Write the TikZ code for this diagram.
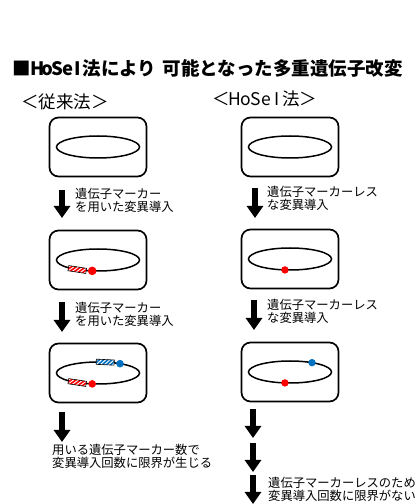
\documentclass[tikz,border=0pt]{standalone}
\usepackage{fontspec}
\newfontfamily\jp{Noto Sans CJK JP}
\usepackage{tikz}
\usetikzlibrary{arrows.meta, positioning, calc}

\definecolor{mkred}{RGB}{255,0,0}
\definecolor{mkblue}{RGB}{0,112,192}

% spaced-out letters of the method name, #1 = pitch
\newcommand{\hosei}[1]{\makebox[#1]{H}\makebox[#1]{o}\makebox[#1]{S}\makebox[#1]{e}\makebox[#1]{I}}

% striped marker block sitting on the ring at angle #2
\newcommand{\markerbox}[3]{%
	\begin{scope}[shift={($(#1)+(#2:41.5 and 11)$)}, rotate={atan2(11*cos(#2),-41.5*sin(#2))+180}]
		\begin{scope}
			\clip (-9,-2.6) rectangle (9,2.6);
			\fill[white] (-9,-2.6) rectangle (9,2.6);
			\foreach \s in {-12,-8,...,12}
			{
				\draw[#3, line width=1.6pt] (\s-3,-3) -- (\s+3,3);
			}
		\end{scope}
		\draw[line width=0.6pt] (-9,-2.6) rectangle (9,2.6);
	\end{scope}%
}

\begin{document}
\begin{tikzpicture}[x=1pt, y=1pt, font=\jp,
		panel/.style = {draw, line width=1.7pt, rounded corners=9pt, minimum width=97pt, minimum height=59pt},
		ring/.style = {line width=1.5pt},
		flow/.style = {line width=5.5pt, -{Triangle[width=16pt, length=12pt]}},
		note/.style = {anchor=west, align=left, font=\jp\fontsize{12.3}{12.8}\selectfont, inner sep=0pt},
		head/.style = {anchor=west, font=\jp\fontsize{17.5}{19}\selectfont, inner sep=0pt},
		dot/.style = {fill=#1, draw=none}
	]
	\useasboundingbox (0,0) rectangle (420,504);

	% heading
	\node[anchor=west, font=\jp\bfseries\fontsize{18.5}{20}\selectfont, inner sep=0pt] (title) at (12,436)
		{■\hspace{0.1em}\hosei{10pt}法により\hspace{0.35em}可能となった多重遺伝子改変};
	\node[head] (oldhead) at (21,402) {＜従来法＞};
	\node[head] (newhead) at (212,405) {＜\hosei{10.5pt}法＞};

	% conventional route
	\node[panel] (L1) at (98,357) {};
	\node[panel] (L2) at (98,244) {};
	\node[panel] (L3) at (98,131) {};

	% marker-less route
	\node[panel] (R1) at (290,357) {};
	\node[panel] (R2) at (290,245) {};
	\node[panel] (R3) at (290,132) {};

	% rings
	\foreach \p in {L1,L2,L3,R1,R2,R3}
	{
		\draw[ring] (\p) ellipse (41.5 and 11);
	}

	% introduced mutations
	\markerbox{L2}{240}{mkred}
	\fill[dot=mkred] ($(L2)+(262:41.5 and 11)$) circle (4.3);

	\markerbox{L3}{80}{mkblue}
	\fill[dot=mkblue] ($(L3)+(58:41.5 and 11)$) circle (3.8);
	\markerbox{L3}{240}{mkred}
	\fill[dot=mkred] ($(L3)+(262:41.5 and 11)$) circle (3.8);

	\fill[dot=mkred] ($(R2)+(263:41.5 and 11)$) circle (3.7);
	\fill[dot=mkblue] ($(R3)+(58:41.5 and 11)$) circle (3.7);
	\fill[dot=mkred] ($(R3)+(263:41.5 and 11)$) circle (3.7);

	% arrows between the stages
	\coordinate (l1a) at (62,314);  \coordinate (l1b) at (62,286);
	\coordinate (l2a) at (62,202);  \coordinate (l2b) at (62,172);
	\coordinate (l3a) at (62,92);   \coordinate (l3b) at (62,62);
	\coordinate (r1a) at (255,316); \coordinate (r1b) at (255,286);
	\coordinate (r2a) at (254,204); \coordinate (r2b) at (254,174);
	\coordinate (r3a) at (253,95);  \coordinate (r3b) at (253,66);
	\coordinate (r4a) at (253,61);  \coordinate (r4b) at (253,32);
	\coordinate (r5a) at (253,29);  \coordinate (r5b) at (253,0);

	\draw[flow] (l1a) -- (l1b);
	\draw[flow] (l2a) -- (l2b);
	\draw[flow] (l3a) -- (l3b);
	\draw[flow] (r1a) -- (r1b);
	\draw[flow] (r2a) -- (r2b);
	\draw[flow] (r3a) -- (r3b);
	\draw[flow] (r4a) -- (r4b);
	\draw[flow] (r5a) -- (r5b);

	% step notes
	\node[note] (t1) at (75,304) {遺伝子マーカー\\を用いた変異導入};
	\node[note] (t2) at (75,190) {遺伝子マーカー\\を用いた変異導入};
	\node[note] (t3) at (52,48) {用いる遺伝子マーカー数で\\変異導入回数に限界が生じる};
	\node[note] (t4) at (267,305.5) {遺伝子マーカーレス\\な変異導入};
	\node[note] (t5) at (267,192.5) {遺伝子マーカーレス\\な変異導入};
	\node[note] (t6) at (268,15) {遺伝子マーカーレスのため\\変異導入回数に限界がない};
\end{tikzpicture}
\end{document}
